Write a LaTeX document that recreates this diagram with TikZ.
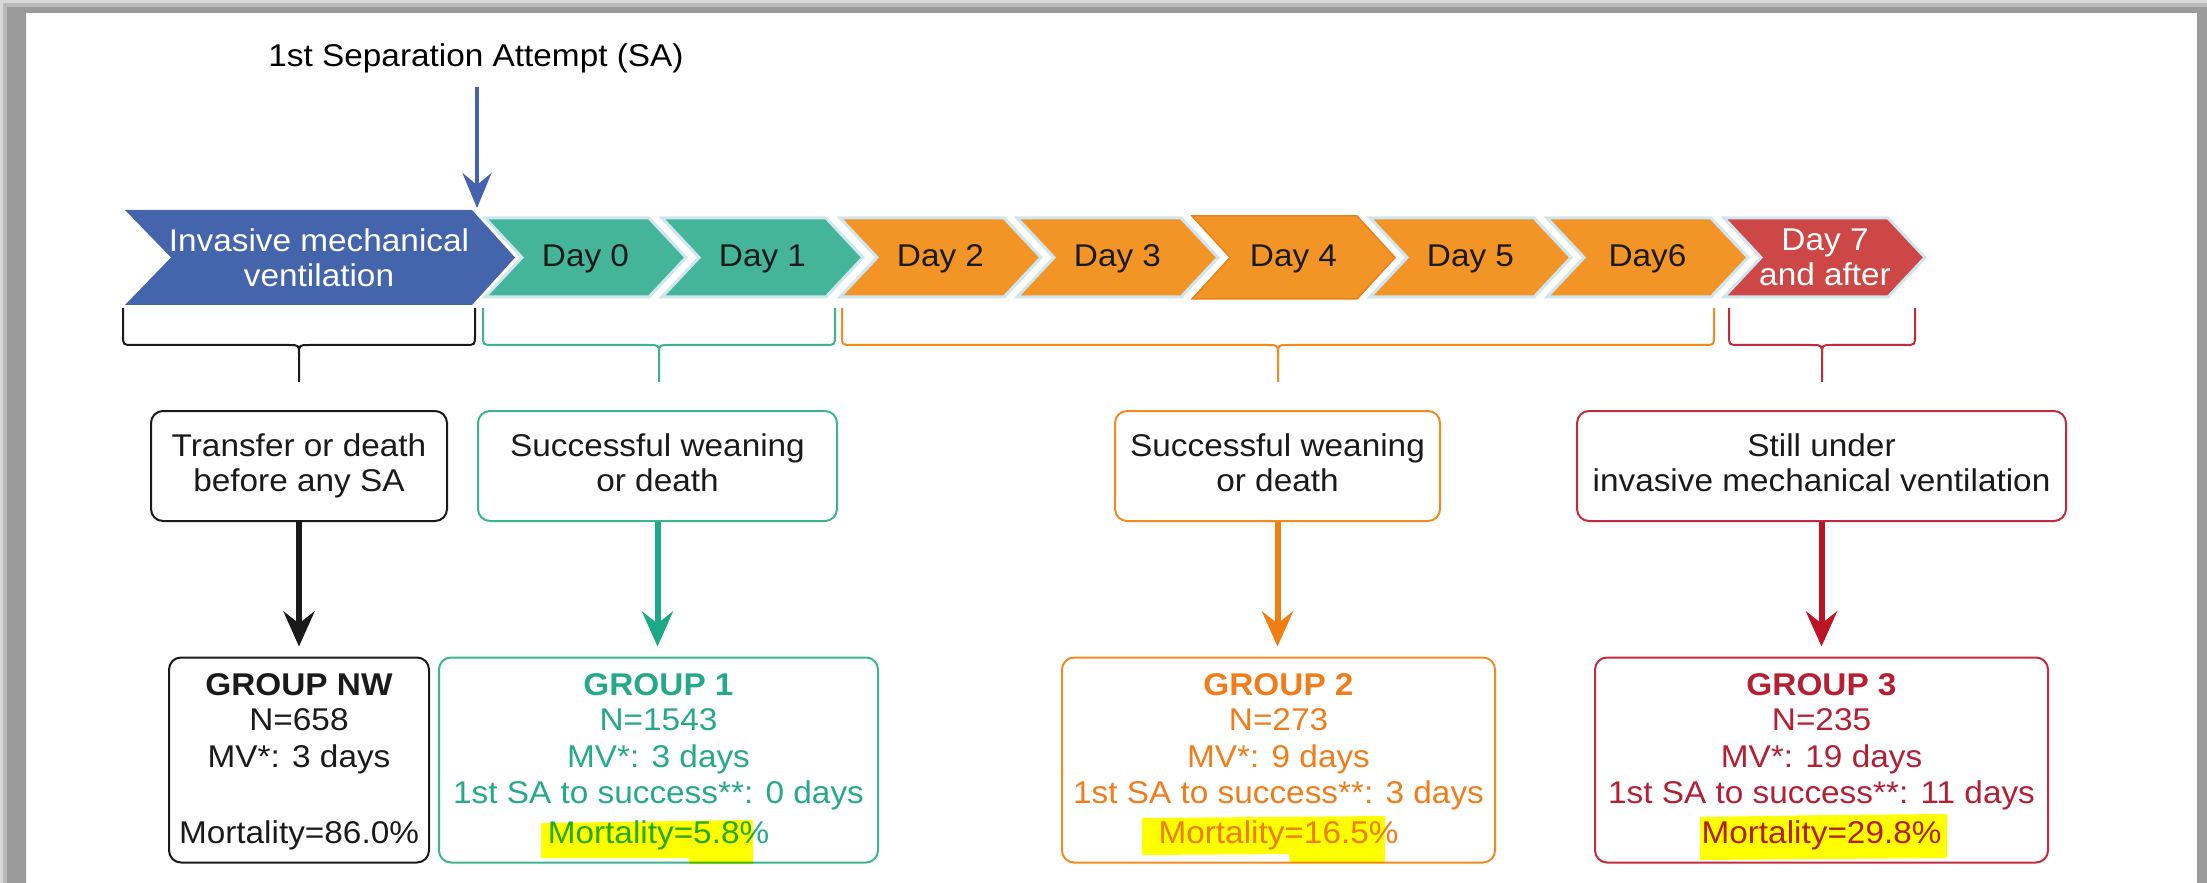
\documentclass[tikz,border=0pt]{standalone}
\usepackage{fontspec}
\setmainfont{Liberation Sans}[FakeStretch=1.06]
\usetikzlibrary{arrows.meta}

\definecolor{frameGray}{HTML}{9B9B9B}
\definecolor{frameLight}{HTML}{D8D8D8}
\definecolor{ivBlue}{HTML}{4464AC}
\definecolor{saBlue}{HTML}{4462AE}
\definecolor{dayGreen}{HTML}{45B59A}
\definecolor{dayOrange}{HTML}{F29526}
\definecolor{dayRed}{HTML}{CC4745}
\definecolor{glow}{HTML}{CFE5F0}
\definecolor{dayFourEdge}{HTML}{E9801A}
\definecolor{txtDark}{HTML}{1A1A1A}
\definecolor{lnGreen}{HTML}{3DB38F}
\definecolor{lnOrange}{HTML}{F28A22}
\definecolor{lnRed}{HTML}{C22B3C}
\definecolor{txGreen}{HTML}{25A98A}
\definecolor{txOrange}{HTML}{F07D1A}
\definecolor{txRed}{HTML}{B41F33}
\definecolor{arGreen}{HTML}{1DA888}
\definecolor{arOrange}{HTML}{EF7F12}
\definecolor{arRed}{HTML}{BA1425}
\definecolor{marker}{HTML}{FFFF00}

\begin{document}
\begin{tikzpicture}[x=0.1mm, y=-0.1mm,
  every node/.style={font=\fontsize{8.95pt}{9.96pt}\selectfont, inner sep=0pt},
  chev/.style={draw=glow, line width=0.3mm},
  daylbl/.style={text=txtDark, anchor=base},
  stage/.style={draw, rounded corners=1.2mm, line width=0.2mm, align=center,
    minimum height=11mm, text=txtDark},
  group/.style={draw, rounded corners=1.2mm, line width=0.2mm, minimum height=20.5mm},
  gline/.style={anchor=base},
  brace/.style={line width=0.2mm},
  flow/.style={line width=0.6mm, -{Stealth[length=3.5mm, width=3.1mm, inset=1.2mm]},
    shorten >=1mm},
]
\useasboundingbox (0,0) rectangle (2207,883);

% page frame: grey borders on the left, right and top
\fill[frameGray, even odd rule] (0,0) rectangle (2207,883) (26,13) rectangle (2197,884);
\fill[frameLight] (0,0) rectangle (3,883);
\fill[frameLight!50!frameGray] (3,0) rectangle (7,883);
\fill[frameLight] (0,0) rectangle (2207,3);
\fill[frameLight!50!frameGray] (3,3) rectangle (2207,7);

% title and separation-attempt arrow
\node[anchor=base] (sa) at (476,67) {1st Separation Attempt (SA)};
\coordinate (saTip) at (477,208);
\draw[saBlue, line width=0.45mm, shorten <=1.3mm,
  -{Stealth[length=3.5mm, width=2.9mm, inset=1.2mm]}] (sa.south -| saTip) -- (saTip);

% timeline chevrons
\fill[ivBlue] (125,210) -- (472,210) -- (515,257.5) -- (472,305) -- (125,305) -- (171,257.5) -- cycle;
\foreach \x/\c in {485/dayGreen, 662/dayGreen, 840/dayOrange, 1017/dayOrange,
                   1370/dayOrange, 1547/dayOrange, 1724/dayRed}
  \filldraw[chev, fill=\c] (\x,218) -- ({\x+164},218) -- ({\x+201},257.5)
    -- ({\x+164},297) -- (\x,297) -- ({\x+37},257.5) -- cycle;
\filldraw[fill=dayOrange, draw=dayFourEdge, line width=0.15mm]
  (1192,216) -- (1357,216) -- (1395,257.5) -- (1357,299) -- (1192,299) -- (1230,257.5) -- cycle;

\node[text=white, align=center] (imv) at (319,257.5) {Invasive mechanical\\ventilation};
\node[daylbl] (d0) at (585.5,267) {Day 0};
\node[daylbl] (d1) at (762.5,267) {Day 1};
\node[daylbl] (d2) at (940.5,267) {Day 2};
\node[daylbl] (d3) at (1117.5,267) {Day 3};
\node[daylbl] (d4) at (1293.5,267) {Day 4};
\node[daylbl] (d5) at (1470.5,267) {Day 5};
\node[daylbl] (d6) at (1647.5,267) {Day6};
\node[text=white, align=center] (d7) at (1825,257) {Day 7\\and after};

% braces grouping the days
\foreach \L/\M/\R/\c in {123/299/475/txtDark, 483/659/835/lnGreen,
                         842/1278/1714/lnOrange, 1729/1822/1915/lnRed}{
  \draw[brace, \c] (\L,308) -- (\L,335) .. controls (\L,345) .. ({\L+10},345)
    -- ({\M-10},345) .. controls (\M,345) .. (\M,355) -- (\M,382);
  \draw[brace, \c] (\R,308) -- (\R,335) .. controls (\R,345) .. ({\R-10},345)
    -- ({\M+10},345) .. controls (\M,345) .. (\M,355);
}

% outcome boxes
\node[stage, draw=txtDark, minimum width=29.6mm] (b0) at (299,466) {Transfer or death\\before any SA};
\node[stage, draw=lnGreen, minimum width=35.9mm] (b1) at (657.5,466) {Successful weaning\\or death\vphantom{y}};
\node[stage, draw=lnOrange, minimum width=32.5mm] (b2) at (1277.5,466) {Successful weaning\\or death\vphantom{y}};
\node[stage, draw=lnRed, minimum width=48.9mm] (b3) at (1821.5,466) {Still under\\invasive mechanical ventilation\vphantom{y}};

% group boxes
\node[group, draw=txtDark, minimum width=26mm] (gnw) at (299,760) {};
\node[group, draw=lnGreen, minimum width=43.9mm] (g1) at (658.5,760) {};
\node[group, draw=lnOrange, minimum width=43.3mm] (g2) at (1278.5,760) {};
\node[group, draw=lnRed, minimum width=45.3mm] (g3) at (1821.5,760) {};

\draw[flow, txtDark] (b0.south) -- (b0.south |- gnw.north);
\draw[flow, arGreen] (b1.south) -- (b1.south |- g1.north);
\draw[flow, arOrange] (b2.south) -- (b2.south |- g2.north);
\draw[flow, arRed] (b3.south) -- (b3.south |- g3.north);

% group contents
\node[gline, text=txtDark] (gnwa) at (299,695) {\textbf{GROUP NW}};
\node[gline, text=txtDark] (gnwb) at (299,730) {N=658};
\node[gline, text=txtDark] (gnwc) at (299,767) {MV*: 3 days};
\node[gline, text=txtDark] (gnwe) at (299,843) {Mortality=86.0\%};

\node[gline, text=txGreen] (g1a) at (658.5,695) {\textbf{GROUP 1}};
\node[gline, text=txGreen] (g1b) at (658.5,730) {N=1543};
\node[gline, text=txGreen] (g1c) at (658.5,767) {MV*: 3 days};
\node[gline, text=txGreen] (g1d) at (658.5,803) {1st SA to success**: 0 days};
\node[gline, text=txGreen] (g1e) at (658.5,843) {Mortality=5.8\%};

\node[gline, text=txOrange] (g2a) at (1278.5,695) {\textbf{GROUP 2}};
\node[gline, text=txOrange] (g2b) at (1278.5,730) {N=273};
\node[gline, text=txOrange] (g2c) at (1278.5,767) {MV*: 9 days};
\node[gline, text=txOrange] (g2d) at (1278.5,803) {1st SA to success**: 3 days};
\node[gline, text=txOrange] (g2e) at (1278.5,843) {Mortality=16.5\%};

\node[gline, text=txRed] (g3a) at (1821.5,695) {\textbf{GROUP 3}};
\node[gline, text=txRed] (g3b) at (1821.5,730) {N=235};
\node[gline, text=txRed] (g3c) at (1821.5,767) {MV*: 19 days};
\node[gline, text=txRed] (g3d) at (1821.5,803) {1st SA to success**: 11 days};
\node[gline, text=txRed] (g3e) at (1821.5,843) {Mortality=29.8\%};

% marker highlights over the mortality figures
\begin{scope}[blend mode=multiply]
\fill[marker] (541,823) -- (753,820) -- (753,864) -- (690,864) -- (688,858) -- (541,858) -- cycle;
\fill[marker] (1142,818) -- (1385,816) -- (1385,863) -- (1290,863) -- (1289,854) -- (1142,855) -- cycle;
\fill[marker] (1700,817) -- (1830,815) -- (1947,814) -- (1947,858) -- (1700,860) -- cycle;
\end{scope}
\end{tikzpicture}
\end{document}
